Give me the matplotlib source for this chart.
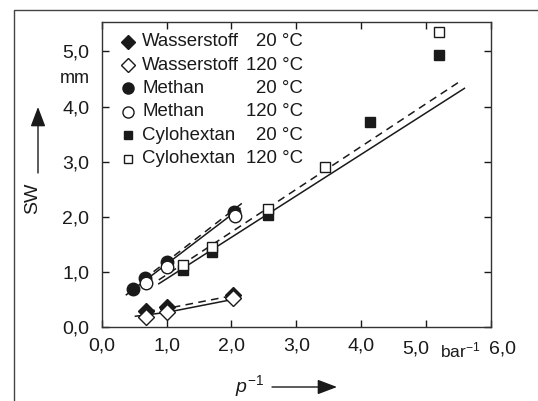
import matplotlib
matplotlib.use("Agg")
import matplotlib.pyplot as plt
from matplotlib.lines import Line2D

plt.rcParams["font.family"] = ["Liberation Sans", "DejaVu Sans"]
plt.rcParams["mathtext.fontset"] = "custom"
plt.rcParams["mathtext.rm"] = "Liberation Sans"
plt.rcParams["mathtext.it"] = "Liberation Sans:italic"

# measured points (x = 1/p in bar^-1, y = SW in mm)
h2_x_20 = [0.69, 1.00, 2.02]
h2_y_20 = [0.29, 0.35, 0.58]
h2_x_120 = [0.68, 1.00, 2.03]
h2_y_120 = [0.17, 0.26, 0.52]

ch4_x_20 = [0.48, 0.66, 1.00, 2.04]
ch4_y_20 = [0.68, 0.88, 1.18, 2.09]
ch4_x_120 = [0.68, 1.00, 2.05]
ch4_y_120 = [0.80, 1.09, 2.01]

c6_x_20 = [1.25, 1.70, 2.57, 4.13, 5.20]
c6_y_20 = [1.03, 1.36, 2.03, 3.71, 4.94]
c6_x_120 = [1.25, 1.70, 2.57, 3.44, 5.20]
c6_y_120 = [1.12, 1.45, 2.14, 2.91, 5.35]

# fitted lines (solid = 20 °C, dashed = 120 °C)
h2_fit_x = [0.52, 1.00, 2.00]
h2_fit_y = [0.19, 0.26, 0.49]
h2_fit2_x = [0.70, 1.00, 2.00]
h2_fit2_y = [0.28, 0.33, 0.56]
ch4_fit_x = [0.38, 2.13]
ch4_fit_y = [0.58, 2.15]
ch4_fit2_x = [0.80, 2.17]
ch4_fit2_y = [1.00, 2.25]
c6_fit_x = [0.88, 5.59]
c6_fit_y = [0.78, 4.33]
c6_fit2_x = [0.88, 5.50]
c6_fit2_y = [0.85, 4.44]

xticks = [0, 1, 2, 3, 4, 5, 6]
yticks = [0, 1, 2, 3, 4, 5]
xtick_labels = ["0,0", "1,0", "2,0", "3,0", "4,0", "5,0", "6,0"]
ytick_labels = ["0,0", "1,0", "2,0", "3,0", "4,0", "5,0"]

legend_names = ["Wasserstoff", "Wasserstoff", "Methan", "Methan",
                "Cylohextan", "Cylohextan"]
legend_temps = ["20 °C", "120 °C", "20 °C", "120 °C", "20 °C", "120 °C"]

K = "#1a1a1a"
FS = 14

fig = plt.figure(figsize=(5.38, 4.01), dpi=100)
ax = fig.add_axes([0.189, 0.1853, 0.7237, 0.7591])

lw = 1.1
dash = (0, (5, 3.5))
ax.plot(h2_fit_x, h2_fit_y, color=K, lw=lw, zorder=2)
ax.plot(h2_fit2_x, h2_fit2_y, color=K, lw=lw, ls=dash, zorder=2)
ax.plot(ch4_fit_x, ch4_fit_y, color=K, lw=lw, zorder=2)
ax.plot(ch4_fit2_x, ch4_fit2_y, color=K, lw=lw, ls=dash, zorder=2)
ax.plot(c6_fit_x, c6_fit_y, color=K, lw=lw, zorder=2)
ax.plot(c6_fit2_x, c6_fit2_y, color=K, lw=lw, ls=dash, zorder=2)

filled = dict(ls="none", mfc=K, mec=K, mew=1, zorder=3)
hollow = dict(ls="none", mfc="white", mec=K, mew=1, zorder=4)
ax.plot(h2_x_20, h2_y_20, "D", ms=7.8, **filled)
ax.plot(h2_x_120, h2_y_120, "D", ms=7.8, **hollow)
ax.plot(ch4_x_20, ch4_y_20, "o", ms=9, **filled)
ax.plot(ch4_x_120, ch4_y_120, "o", ms=9, **hollow)
ax.plot(c6_x_20, c6_y_20, "s", ms=7.2, **filled)
ax.plot(c6_x_120, c6_y_120, "s", ms=7.2, **hollow)

ax.set_xlim(0, 6)
ax.set_ylim(0, 5.53)
ax.set_xticks(xticks)
ax.set_yticks(yticks)
ax.set_xticklabels(["" if i >= 5 else s for i, s in enumerate(xtick_labels)])
ax.set_yticklabels(ytick_labels)
ax.tick_params(direction="in", length=5, width=1, top=True, right=True,
               labelsize=FS, colors=K, pad=8)
ax.tick_params(axis="y", pad=9)
for sp in ax.spines.values():
    sp.set_linewidth(1)
    sp.set_color("#333333")

# last two x labels are pushed apart to leave room for the unit
for x, s, dx in [(5, xtick_labels[5], -10), (6, xtick_labels[6], 11)]:
    ax.annotate(s, xy=(x, 0), xycoords=("data", "axes fraction"),
                xytext=(dx * 0.72, -8 - 0.72 * 3), textcoords="offset points",
                ha="center", va="top", fontsize=FS, color=K)
ax.annotate("bar$^{-1}$", xy=(5.5, 0), xycoords=("data", "axes fraction"),
            xytext=(1, -8 - 0.72 * 3), textcoords="offset points",
            ha="center", va="top", fontsize=12.5, color=K)
ax.annotate("mm", xy=(0, 4.5), xycoords=("axes fraction", "data"),
            xytext=(-9 * 0.72 - 2, 0), textcoords="offset points",
            ha="right", va="center", fontsize=13, color=K)

# legend drawn by hand so the temperatures line up in their own column
mk = [("D", K, 7), ("D", "white", 7), ("o", K, 8), ("o", "white", 8),
      ("s", K, 6), ("s", "white", 6)]
for i, (name, temp) in enumerate(zip(legend_names, legend_temps)):
    y = 0.936 - i * 0.0767
    m, fc, ms = mk[i]
    ax.plot([0.068], [y], marker=m, ms=ms, mfc=fc, mec=K, mew=1,
            transform=ax.transAxes, clip_on=False, zorder=5)
    ax.text(0.104, y, name, transform=ax.transAxes, ha="left", va="center",
            fontsize=13.4, color=K)
    ax.text(0.517, y, temp, transform=ax.transAxes, ha="right", va="center",
            fontsize=13.4, color=K)

# axis titles with arrows
fig.text(32.5 / 538, 1 - 198 / 401, "SW", rotation=90, ha="center",
         va="center", fontsize=14, color=K)
fig.text(249 / 538, 1 - 386 / 401, "$p^{-1}$", ha="center", va="center",
         fontsize=14, color=K)
arrow = dict(arrowstyle="-|>,head_length=1.0,head_width=0.38", lw=1,
             color=K, shrinkA=0, shrinkB=0, mutation_scale=12)
fig.add_artist(matplotlib.patches.FancyArrowPatch(
    (38 / 538, 1 - 173 / 401), (38 / 538, 1 - 107 / 401),
    transform=fig.transFigure, **arrow))
fig.add_artist(matplotlib.patches.FancyArrowPatch(
    (272 / 538, 1 - 387 / 401), (337 / 538, 1 - 387 / 401),
    transform=fig.transFigure, **arrow))

# outer frame (left and top edges)
fig.add_artist(Line2D([14 / 538, 14 / 538, 1], [0, 1 - 10 / 401, 1 - 10 / 401],
                      transform=fig.transFigure, color="#444444", lw=1))

fig.savefig("out.png", dpi=100)
